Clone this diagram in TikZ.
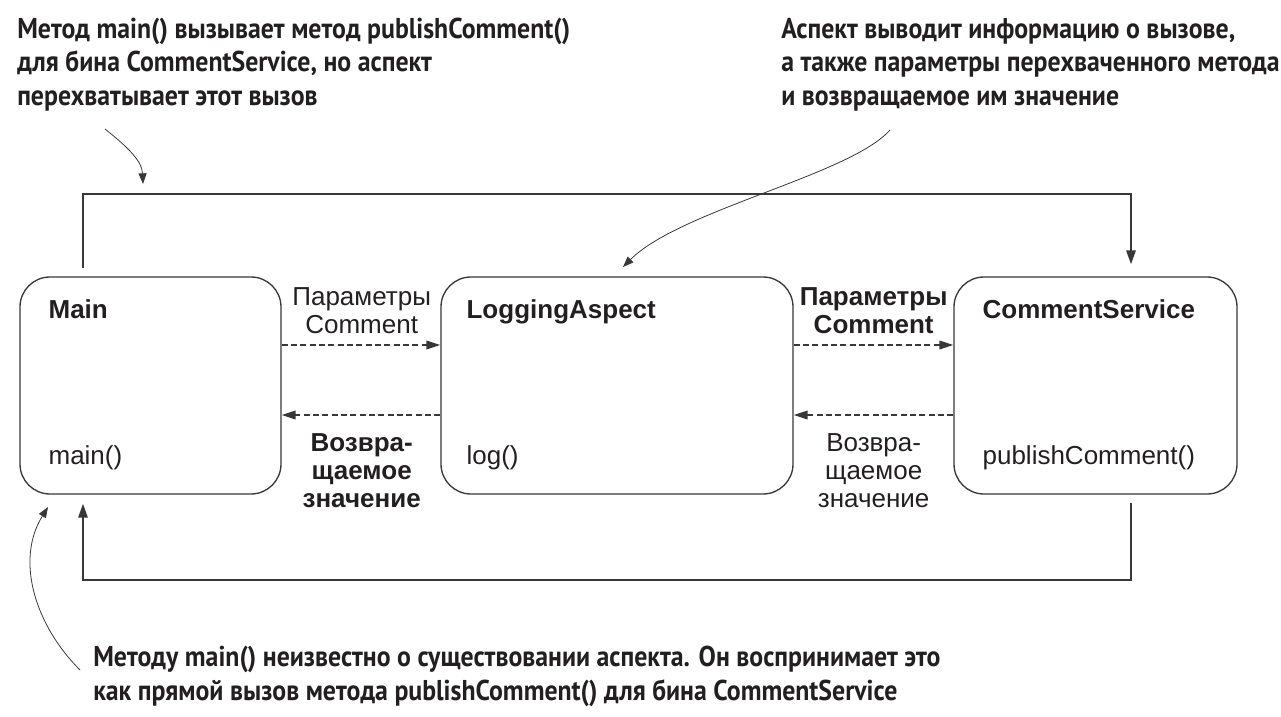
\documentclass[tikz,border=0pt]{standalone}
\usepackage{fontspec}
\setmainfont{Liberation Sans}
\newfontfamily\callfont[FakeStretch=0.9]{PT Sans}
\usetikzlibrary{arrows.meta,calc}
\definecolor{ink}{HTML}{231F20}
\definecolor{edge}{HTML}{38383A}
\begin{document}
\begin{tikzpicture}[x=0.75pt,y=-0.75pt,
  box/.style={draw=edge, line width=1pt, rounded corners=22.5pt, minimum height=162.75pt, inner sep=0pt},
  boxtitle/.style={anchor=base west, inner sep=0pt, text=ink, font=\bfseries\fontsize{19.5}{21}\selectfont},
  boxmeth/.style={anchor=base west, inner sep=0pt, text=ink, font=\fontsize{19.5}{21}\selectfont},
  lbl/.style={anchor=base, inner sep=0pt, align=center, text=ink, font=\fontsize{19.5}{20.75}\selectfont},
  blbl/.style={lbl, font=\bfseries\fontsize{19.5}{20.75}\selectfont},
  callout/.style={anchor=base west, inner sep=0pt, align=left, text=ink, font=\callfont\bfseries\fontsize{21.5}{25.1}\selectfont},
  flow/.style={draw=edge, line width=1.6pt, -{Triangle[length=10.5pt,width=7pt]}},
  dflow/.style={draw=edge, line width=1.1pt, dash pattern=on 4.5pt off 2.5pt, -{Triangle[length=10.5pt,width=6.5pt]}},
  note/.style={draw=edge, line width=0.6pt, -{Triangle[length=8pt,width=6pt]}}
]
\useasboundingbox (0,0) rectangle (1281,717);

% boxes
\node[box, minimum width=195.75pt] (main) at (150.5,385.5) {};
\node[box, minimum width=264pt] (la) at (617,385.5) {};
\node[box, minimum width=212.25pt] (cs) at (1095.5,385.5) {};

\node[boxtitle] (mainT) at ([shift={(29,42)}]main.north west) {Main};
\node[boxmeth] (mainM) at ([shift={(29,188)}]main.north west) {main()};
\node[boxtitle] (laT) at ([shift={(26,42)}]la.north west) {LoggingAspect};
\node[boxmeth] (laM) at ([shift={(26,188)}]la.north west) {log()};
\node[boxtitle] (csT) at ([shift={(29,42)}]cs.north west) {CommentService};
\node[boxmeth] (csM) at ([shift={(29,188)}]cs.north west) {publishComment()};

% dashed arrows
\draw[dflow] ([shift={(0,-40.5)}]main.east) -- ([shift={(0,-40.5)}]la.west);
\draw[dflow] ([shift={(0,29.5)}]la.west) -- ([shift={(0,29.5)}]main.east);
\draw[dflow] ([shift={(0,-40.5)}]la.east) -- ([shift={(0,-40.5)}]cs.west);
\draw[dflow] ([shift={(0,29.5)}]cs.west) -- ([shift={(0,29.5)}]la.east);

% labels (base = last line)
\node[lbl] (l1) at ([shift={(80,-52.5)}]main.east) {Параметры\\Comment};
\node[blbl] (l2) at ([shift={(80,121.5)}]main.east) {Возвра-\\щаемое\\значение};
\node[blbl] (l3) at ([shift={(80,-52.5)}]la.east) {Параметры\\Comment};
\node[lbl] (l4) at ([shift={(80,121.5)}]la.east) {Возвра-\\щаемое\\значение};

% solid connectors
\draw[flow] ([shift={(-67.5,-8)}]main.north) |- ([shift={(35.5,-82)}]cs.north) -- ([shift={(35.5,-12)}]cs.north);
\draw[flow] ([shift={(35.5,8)}]cs.south) |- ([shift={(-67.5,85)}]main.south) -- ([shift={(-67.5,9)}]main.south);

% callouts (base = last line)
\node[callout] (c1) at (17,105) {Метод main() вызывает метод publishComment()\\для бина CommentService, но аспект\\перехватывает этот вызов};
\node[callout] (c2) at (781,105) {Аспект выводит информацию о вызове,\\а также параметры перехваченного метода\\и возвращаемое им значение};
\node[callout] (c3) at (93,700) {Методу main() неизвестно о существовании аспекта. Он воспринимает это\\как прямой вызов метода publishComment() для бина CommentService};

\coordinate (c1s) at (105,129);
\coordinate (c1e) at (143,184);
\coordinate (c2s) at (890,130);
\coordinate (c2e) at (623,267);
\coordinate (c3s) at (80,670);
\coordinate (c3e) at (48,507);
\draw[note] (c1s) .. controls (125,145) and (142,160) .. (c1e);
\draw[note] (c2s) .. controls (850,175) and (680,210) .. (c2e);
\draw[note] (c3s) .. controls (35,625) and (15,560) .. (c3e);
\end{tikzpicture}
\end{document}
